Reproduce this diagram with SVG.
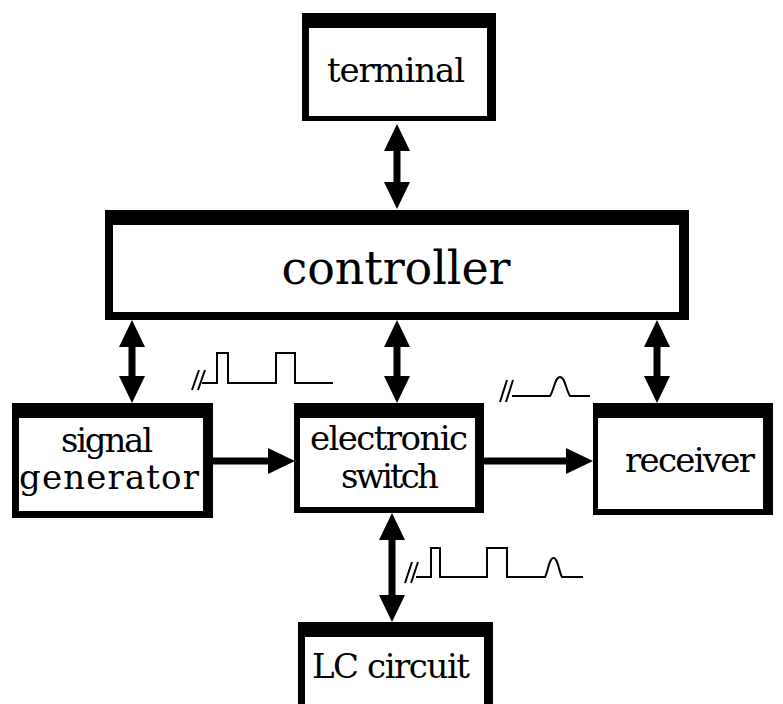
<svg xmlns="http://www.w3.org/2000/svg" width="783" height="704" viewBox="0 0 783 704">
<style>
.frame{fill:#000}
.inner{fill:#fff}
.lbl{font-family:"DejaVu Serif","Liberation Serif",serif;font-size:34px;fill:#000;text-anchor:middle}
.arrow{fill:#000}
.wave{fill:none;stroke:#000;stroke-width:2;stroke-linejoin:miter}
</style>
<rect width="783" height="704" fill="#fff"/>
<g id="terminal">
<rect class="frame" x="302" y="13" width="194" height="108"/>
<rect class="inner" x="309" y="28" width="178" height="88"/>
<text class="lbl" x="396" y="82" textLength="138" lengthAdjust="spacing">terminal</text>
</g>
<g id="controller">
<rect class="frame" x="105" y="210" width="584" height="110"/>
<rect class="inner" x="113" y="225" width="566" height="87"/>
<text class="lbl" x="396" y="284" style="font-size:46px" textLength="229" lengthAdjust="spacing">controller</text>
</g>
<g id="signal-generator">
<rect class="frame" x="12" y="403" width="201" height="115"/>
<rect class="inner" x="19" y="418" width="184" height="93"/>
<text class="lbl" x="107" y="452" textLength="92" lengthAdjust="spacing">signal</text>
<text class="lbl" x="109" y="489" textLength="180" lengthAdjust="spacing">generator</text>
</g>
<g id="electronic-switch">
<rect class="frame" x="294" y="403" width="190" height="110"/>
<rect class="inner" x="300" y="418" width="175" height="89"/>
<text class="lbl" x="389" y="450" textLength="158" lengthAdjust="spacing">electronic</text>
<text class="lbl" x="390" y="488" textLength="98" lengthAdjust="spacing">switch</text>
</g>
<g id="receiver">
<rect class="frame" x="593" y="403" width="180" height="112"/>
<rect class="inner" x="598" y="418" width="165" height="91"/>
<text class="lbl" x="690" y="472" textLength="130" lengthAdjust="spacing">receiver</text>
</g>
<g id="lc-circuit">
<rect class="frame" x="298" y="622" width="195" height="82"/>
<rect class="inner" x="305" y="637" width="179" height="67"/>
<text class="lbl" x="391" y="678" textLength="158" lengthAdjust="spacing">LC circuit</text>
</g>
<g id="connectors">
<path class="arrow" d="M397 124 L410 151 L400.5 151 L400.5 182 L410 182 L397 209 L384 182 L393.5 182 L393.5 151 L384 151 Z"/>
<path class="arrow" d="M132 320 L145 347 L135.5 347 L135.5 376 L145 376 L132 403 L119 376 L128.5 376 L128.5 347 L119 347 Z"/>
<path class="arrow" d="M397 320 L410 347 L400.5 347 L400.5 376 L410 376 L397 403 L384 376 L393.5 376 L393.5 347 L384 347 Z"/>
<path class="arrow" d="M657 320 L670 347 L660.5 347 L660.5 376 L670 376 L657 403 L644 376 L653.5 376 L653.5 347 L644 347 Z"/>
<path class="arrow" d="M392 513 L405 540 L395.5 540 L395.5 595 L405 595 L392 622 L379 595 L388.5 595 L388.5 540 L379 540 Z"/>
<path class="arrow" d="M213 457.5 L268 457.5 L268 448 L295 461 L268 474 L268 464.5 L213 464.5 Z"/>
<path class="arrow" d="M484 457.5 L566 457.5 L566 448 L593 461 L566 474 L566 464.5 L484 464.5 Z"/>
</g>
<g id="waveforms">
<path class="wave" d="M192 390 L199 370 M198 390 L205 370"/>
<path class="wave" d="M202 383 L217 383 L217 353 L228 353 L228 383 L276 383 L276 353 L295 353 L295 383 L333 383"/>
<path class="wave" d="M500 402 L507 380 M506 402 L513 380"/>
<path class="wave" d="M512 396 L550 396 C554 390 555 377 560 377 C565 377 566 390 570 396 L590 396"/>
<path class="wave" d="M405 583 L412 562 M411 583 L418 562"/>
<path class="wave" d="M416 577 L431 577 L431 548 L440 548 L440 577 L487 577 L487 548 L507 548 L507 577 L545 577 C548 572 549 558 553.5 558 C558 558 559 572 562 577 L583 577"/>
</g>
</svg>
